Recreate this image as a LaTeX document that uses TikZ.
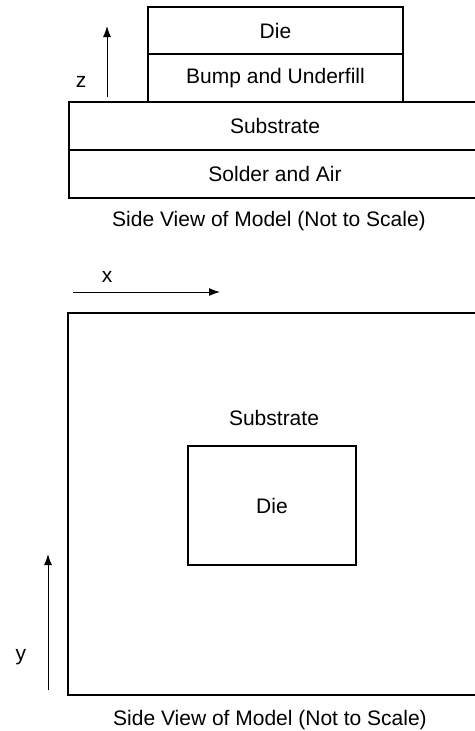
\documentclass[tikz,border=0pt]{standalone}
\usepackage{fontspec}
\setmainfont{Liberation Sans}
\usetikzlibrary{positioning,arrows.meta}

\providecommand*{\xLeft}{}
\providecommand*{\xRight}{}
\providecommand*{\layerH}{}
\renewcommand*{\xLeft}{69}
\renewcommand*{\xRight}{481}
\renewcommand*{\layerH}{48}

\tikzset{
  layer/.style={draw,line width=1.6pt,inner sep=0pt,outer sep=0pt,
    minimum height=\layerH,font=\fontsize{21}{25}\selectfont},
  label/.style={inner sep=0pt,font=\fontsize{21}{25}\selectfont},
  axis/.style={line width=1pt,-{Latex[length=11pt,width=8pt]}}
}

\begin{document}
\begin{tikzpicture}[x=1pt,y=-1pt]
  \useasboundingbox (0,0) rectangle (474,731);
%side view
  \node [layer,minimum width=255,minimum height=47] (die) at (275.5,30.5) {Die};
  \node [layer,minimum width=255,below=0pt of die] (bump) {Bump and Underfill};
  \node [layer,minimum width=\xRight-\xLeft,anchor=north west] (sub) at (\xLeft,102) {Substrate};
  \node [layer,minimum width=\xRight-\xLeft,below=0pt of sub] (solder) {Solder and Air};
  \node [label] (cap1) at (269,221) {Side View of Model (Not to Scale)};
%z
  \coordinate (z0) at (107,97);
  \coordinate (z1) at (107,26);
  \draw [axis] (z0) -- (z1);
  \node [label] (zlab) at (81,82) {z};

%top view
  \node [label] (xlab) at (107,277) {x};
  \coordinate (x0) at (73,292);
  \coordinate (x1) at (220,292);
  \draw [axis] (x0) -- (x1);
  \node [layer,minimum width=\xRight-68,minimum height=382,anchor=north west] (board) at (68,313) {};
  \node [label] (sublab) at (274,418) {Substrate};
  \node [layer,minimum width=168,minimum height=119,anchor=north west] (chip) at (188,446) {Die};
%y
  \coordinate (y0) at (48,690);
  \coordinate (y1) at (48,554);
  \draw [axis] (y0) -- (y1);
  \node [label] (ylab) at (21,657) {y};
  \node [label] (cap2) at (270,720) {Side View of Model (Not to Scale)};
\end{tikzpicture}
\end{document}
